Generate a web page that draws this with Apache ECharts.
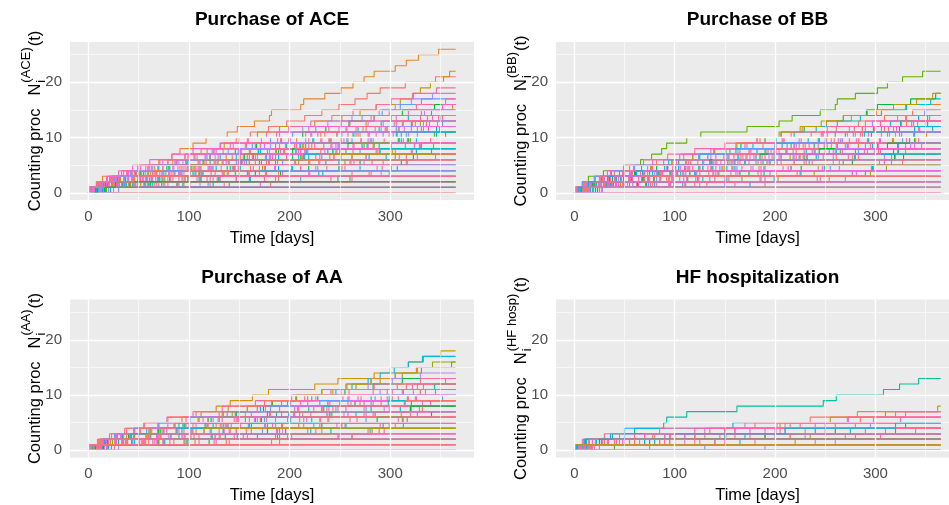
<!DOCTYPE html>
<html>
<head>
<meta charset="utf-8">
<script src="https://cdn.jsdelivr.net/npm/echarts@6/dist/echarts.min.js"></script>
<style>
html, body { margin: 0; padding: 0; background: #fff; }
#chart { width: 949px; height: 505px; }
</style>
</head>
<body>
<div id="chart"></div>
<script>
// ---- data ----
var panelTitles = ['Purchase of ACE', 'Purchase of BB', 'Purchase of AA', 'HF hospitalization'];
var panelSup = ['(ACE)', '(BB)', '(AA)', '(HF hosp)'];
var xTicks = [0, 100, 200, 300];
var yTicks = [0, 10, 20];
var followUp = 365;

// event days per patient (each patient = one step line)
var aceEvents = [
  [2,8,14,47,49,70,83,91,104,117,138,148,165,180,182,211,214,235,251,263,274,284,305,316,328,348],
  [3,12,27,44,61,79,96,112,131,147,161,179,197,215,232,249,265,277,290,315,345],
  [5,18,32,50,66,84,100,118,135,150,168,190,225,252,270,286,310,323,330,340,353,359],
  [4,15,31,48,69,88,106,124,141,159,177,199,221,242,263,286,301,322,346],
  [6,21,39,57,74,94,108,123,144,172,190,213,238,262,289,305,321,342],
  [3,19,37,59,81,99,121,139,163,181,203,226,251,272,292,310,331],
  [8,26,45,66,89,109,129,151,171,192,216,239,260,281,299,326,355],
  [2,13,36,55,78,97,121,146,167,191,213,236,259,284,312,344],
  [10,29,52,74,99,121,147,171,197,223,247,268,291,318,341],
  [5,24,46,68,93,115,137,160,186,207,231,256,276,301,331,362],
  [7,28,51,73,95,111,126,152,175,201,221,249,278,306,334],
  [12,34,61,86,111,139,164,189,216,241,263,289,321,350],
  [1,19,43,67,91,117,143,169,196,219,247,276,304,337],
  [9,31,58,83,109,137,166,194,225,254,286,314,347],
  [4,25,54,81,107,134,163,191,219,251,279,309,339],
  [15,41,69,101,127,157,189,217,249,281,311,346],
  [3,30,61,92,121,149,181,209,241,271,299,331],
  [18,47,81,113,144,177,211,243,274,309,344],
  [6,36,67,101,132,166,197,231,263,294,327],
  [11,44,81,114,151,186,219,256,289,326],
  [2,37,73,107,143,177,213,247,283,317],
  [20,57,96,134,173,209,251,289,331],
  [7,46,84,126,164,206,244,286,324],
  [14,56,99,146,189,236,279,326],
  [5,49,96,139,186,229,276,321],
  [25,76,124,176,226,274,327],
  [9,59,111,159,211,261,309],
  [16,73,129,191,249,311],
  [4,61,121,177,237,293],
  [22,89,161,229,301],
  [8,79,147,219,287],
  [12,101,189,281],
  [30,119,211,299],
  [3,121,241],
  [10,181],
  [6,94],
  [15],
  [],
  [6,23,49,77,104,129,158,187,213,240,268,297,330],
  [2,30,63,90,122,153,181,216,248,280,318],
  [9,40,71,104,138,170,203,238,272,308],
  [1,33,74,112,150,193,232,270,315],
  [13,52,90,133,175,220,262,305],
  [4,45,99,150,202,255,305],
  [11,68,118,170,228,282],
  [2,60,130,200,270],
  [18,140,260],
  [7,200],
  [3],
  [6,90,175,262],
  [4,27,52,80,106,133,160,186,214,241,270,296,325,352],
  [1,16,40,68,97,125,151,180,210,239,266,295,322],
  [8,33,64,92,124,155,183,215,246,278,307,338],
  [3,29,58,90,123,152,186,218,250,283,316,349],
  [12,45,79,111,146,179,212,246,278,313],
  [5,38,70,106,141,172,209,243,277,311,346],
  [2,35,74,110,149,188,226,263,301,340],
  [9,52,94,135,176,219,262,302,343],
  [6,40,82,122,161,205,244,287,329],
  [1,47,93,138,185,230,276,322],
  [17,64,110,158,203,249,296,341],
  [3,55,108,160,211,264,316],
  [10,62,112,166,219,270,323],
  [7,70,131,193,255,317],
  [2,66,128,189,252,316],
  [14,88,160,233,307],
  [4,75,147,220,292],
  [20,111,200,291],
  [6,95,186,279],
  [1,124,248],
  [11,135,262],
  [5,171],
  [13,88],
  [2],
  [8],
  [3,19,44,71,99,126,150,178,205,231,258,285,313,342],
  [6,31,57,85,112,140,168,195,222,251,279,308,336],
  [10,36,63,93,120,147,177,207,234,262,293,321,352],
  [2,28,59,90,119,151,180,211,242,271,303,333],
  [7,42,76,110,145,180,214,250,284,320,355],
  [3,10,21,35,52,74,99,127,156,188,222,257,293,330],
  [5,13,24,39,57,79,105,134,166,199,235,273,312],
  [1,8,19,33,50,71,96,125,157,191,228,266,306,348],
  [4,12,26,42,63,88,117,150,186,224,264,306],
  [2,11,23,40,60,86,116,151,190,232,278,327],
  [6,15,29,47,70,98,131,169,211,257,306],
  [3,9,22,38,59,87,121,161,207,258],
  [7,17,31,52,80,114,155,203,258,318],
  [1,10,25,46,74,110,154,206,264],
  [4,14,30,53,85,126,176,235,301],
  [2,12,28,51,84,128,183,250,330],
  [8,19,37,64,102,152,215,290],
  [5,16,35,64,105,160,230],
  [3,13,31,60,102,160,240],
  [1,11,30,62,110,180],
  [6,18,40,80,145],
  [2,14,36,75],
  [4,20,55],
  [9,27],
  [3,16,45,95,170,260,345],
  [2,9,18,30,44,61,83,104,131,158,187,219,251,284,318,352],
  [5,14,27,43,64,90,118,149,181,216,252,291,333]
];

var bbEvents = [
  [3,8,14,29,49,66,77,87,92,112,126,172,204,217,245,260,262,280,302,312,327,347],
  [5,20,38,61,82,104,124,151,166,190,206,229,251,268,291,302,335,360],
  [2,16,35,55,76,98,118,140,162,185,206,227,251,276,301,330],
  [9,25,46,68,90,111,133,155,178,201,219,241,262,285,306,331,355],
  [4,18,36,57,77,97,118,139,161,182,204,225,246,268,292,318,341,357],
  [6,24,47,70,93,116,141,163,188,209,236,261,283,309,337],
  [11,33,56,80,104,129,152,176,201,224,248,274,297,322,349],
  [1,22,49,75,101,128,154,182,207,233,260,287,315,343],
  [8,31,58,84,111,137,166,191,219,244,272,299,326,354],
  [13,39,68,96,124,153,181,211,239,267,296,324,352],
  [3,29,57,87,115,146,175,204,234,263,293,321,350],
  [5,35,67,97,128,159,190,221,252,283,314,344],
  [16,44,74,106,138,170,199,231,262,293,326,357],
  [2,34,69,102,136,170,204,237,270,304,338],
  [12,46,80,115,148,183,215,250,283,317,351],
  [7,42,79,115,152,188,224,261,297,334],
  [1,38,74,111,147,186,221,258,295,331],
  [19,58,98,139,178,219,258,299,339],
  [4,44,85,125,167,206,248,289,330],
  [10,55,99,144,189,234,279,323],
  [3,49,94,141,186,231,277,322],
  [21,72,123,174,226,277,328],
  [6,58,109,161,213,264,316],
  [14,74,135,195,255,316],
  [2,62,121,183,243,304],
  [9,82,154,226,298],
  [25,95,167,239,311],
  [5,96,186,277],
  [18,108,199,290],
  [7,125,245],
  [28,150,270],
  [12,190],
  [4,110],
  [9],
  [23],
  [],
  [7,30,55,82,110,136,164,193,221,250,278,306,336],
  [4,26,56,88,118,150,179,211,243,274,306,339],
  [15,48,86,121,158,192,229,265,302,339],
  [1,39,79,120,160,200,241,280,322],
  [6,48,95,138,184,229,273,318],
  [3,53,105,156,208,258,309],
  [11,71,128,189,249,309],
  [8,99,190,281],
  [2,160],
  [5,30,57,86,114,142,171,199,228,256,285,313,342],
  [2,27,54,83,113,141,172,200,230,259,287,318],
  [9,38,70,101,133,165,197,229,261,292,326],
  [4,36,69,103,137,170,206,239,272,305,339],
  [13,49,86,122,157,194,231,267,303,340],
  [1,41,82,121,162,202,243,283,323],
  [7,49,92,134,176,219,261,303,346],
  [3,50,97,143,190,237,283,330],
  [11,63,113,165,216,268,319],
  [6,58,112,163,216,268,320],
  [2,64,124,186,247,309],
  [15,78,140,201,264,327],
  [8,80,152,225,297],
  [4,76,150,222,296],
  [19,111,203,295],
  [3,94,185,277],
  [10,132,254],
  [1,120,242],
  [6,175],
  [14,95],
  [3],
  [27],
  [4,24,47,73,98,123,149,174,200,226,252,279,305,331],
  [8,32,57,84,110,137,163,190,216,244,270,298,325,352],
  [2,29,55,83,111,139,168,196,224,251,280,309,338],
  [6,34,64,95,125,157,187,218,249,281,312,343],
  [11,42,75,108,141,174,206,240,272,305,338],
  [1,37,73,109,145,181,218,254,290,327],
  [2,10,20,33,49,69,93,120,150,182,216,252,290,330],
  [4,12,25,40,59,82,109,139,172,208,246,287,331],
  [1,9,21,36,55,78,105,136,170,207,247,290,336],
  [3,13,27,45,67,94,125,161,200,243,289,339],
  [6,15,30,49,73,102,136,175,219,267,320],
  [2,8,20,37,60,89,124,165,212,265,324],
  [5,14,29,50,78,112,153,201,256,318],
  [1,11,26,48,77,114,159,212,273,343],
  [7,18,35,60,93,135,185,244,312],
  [3,12,30,56,92,138,194,260,335],
  [4,16,36,66,106,157,219,292],
  [2,10,28,58,100,155,225],
  [6,19,42,78,128,195,280],
  [1,13,34,70,125,200],
  [5,17,41,85,150],
  [3,15,44,98],
  [8,25,70],
  [2,30],
  [4,14,33,62,104,160,232,318],
  [9,21,40,69,110,163,228,305]
];

var aaEvents = [
  [2,12,28,46,70,93,112,127,141,163,179,225,248,284,300,318,333,350],
  [6,20,43,69,94,119,146,171,198,222,246,262,278,290,304,318,332],
  [4,19,40,62,86,110,134,158,183,207,232,256,281,305,331,361],
  [8,24,46,70,95,119,143,168,192,218,243,266,290,312,327,342],
  [3,17,38,61,85,109,133,158,182,206,232,257,281,305,326],
  [10,27,50,75,100,124,150,176,201,226,251,278,302,330],
  [5,22,45,70,96,122,147,174,200,228,255,283,312],
  [2,18,45,75,104,133,162,190,218,253,283,316],
  [7,26,59,88,118,147,178,208,238,258,290,322],
  [12,35,68,101,134,166,199,232,265,299,330],
  [1,30,61,95,127,160,192,224,258,291,323],
  [4,37,72,107,142,177,213,248,283,318],
  [9,44,80,115,151,186,221,256,291,326],
  [16,55,96,134,175,214,254,294,332],
  [3,43,82,122,162,201,242,281,321],
  [6,51,96,141,186,231,276,321],
  [11,56,102,147,192,238,283,329],
  [19,70,122,173,224,276,327],
  [2,54,105,157,209,260,311],
  [14,75,136,196,256,317],
  [5,66,126,187,247,308],
  [8,81,154,226,299],
  [23,96,168,241,313],
  [3,95,186,278],
  [15,106,198,289],
  [6,127,248],
  [20,140,262],
  [9,190],
  [4,120],
  [12],
  [30],
  [],
  [1,33,69,103,139,175,210,246,281,317],
  [4,50,93,140,183,230,274,320],
  [10,70,131,190,252,312],
  [2,74,145,218,290],
  [7,98,188,280],
  [1,60],
  [5],
  [3,28,57,87,118,148,178,209,240,271,302,333],
  [8,39,71,103,136,168,200,233,265,297,330],
  [1,34,68,102,137,171,205,239,274,308],
  [5,44,82,121,159,198,237,276,314,352],
  [12,53,94,135,176,217,258,299,340],
  [2,46,90,134,178,222,266,310],
  [9,55,101,147,193,239,285,332],
  [4,57,110,162,214,267,320],
  [15,69,123,178,232,287,341],
  [6,68,130,193,255,317],
  [1,64,126,188,251,313],
  [11,85,158,232,305],
  [3,76,148,221,293],
  [18,110,202,294],
  [7,98,190,282],
  [2,125,249],
  [13,137,262],
  [5,182],
  [20,100],
  [8],
  [26],
  [],
  [6,33,60,90,119,149,180,209,238,268,297,327,355],
  [2,30,62,93,124,156,187,219,250,281,313,344],
  [10,38,72,104,138,171,204,237,270,302,335],
  [3,11,23,38,56,78,104,133,166,202,241,284,330],
  [1,9,21,36,55,79,107,139,175,215,259,307],
  [5,14,28,46,69,97,130,168,211,259,312],
  [2,12,26,45,70,101,138,181,230,285,345],
  [4,13,29,51,79,114,156,205,261,325],
  [6,17,34,58,90,130,178,234,298],
  [1,10,27,52,86,129,181,243,315],
  [3,15,33,60,97,145,204,274],
  [7,19,40,72,116,172,240,320],
  [2,13,32,63,107,165,238],
  [5,18,41,78,131,200,285],
  [1,12,35,74,132,210],
  [4,16,42,88,160],
  [2,20,60,130,230],
  [6,22,58,115],
  [3,18,70],
  [9,35],
  [1,14]
];

var hfEvents = [
  [4,11,38,60,89,92,112,162,248,261,308,324,343],
  [10,45,95,150,205,255,310,362],
  [6,28,70,130,202,273,320],
  [15,55,110,160,215,272,330],
  [3,30,80,150,210,285],
  [9,50,120,190,250,325],
  [5,22,36,50,158],
  [12,60,151,230,300],
  [8,40,110,201,295],
  [2,11,90,260],
  [7,65,175,290],
  [14,100,200,320],
  [4,120,270],
  [18,150,305],
  [11,95,235],
  [2,80,215],
  [6,180],
  [16,240],
  [9,140],
  [3,300],
  [5],
  [20],
  [40],
  [130],
  [],
  [],
  [1,70],
  [8,60,190],
  [2],
  [13,85,160,340],
  [3,42,96,160,225,298],
  [7,55,130,205,280],
  [1,34,100,175,260],
  [12,70,150,240,330],
  [5,48,120,210],
  [9,80,170,275],
  [2,60,145,250],
  [14,90,200,310],
  [6,75,190],
  [1,110,230],
  [10,140,280],
  [4,95,215],
  [8,165],
  [3,125],
  [17,220],
  [5,260],
  [11,85],
  [2],
  [6],
  [25],
  [75],
  [190],
  [],
  [],
  [4,30,78,135,180,235,282],
  [2,9,30,85,170],
  [4,14,60,150],
  [1,8,45,120,240],
  [3,12,50],
  [5,18,90],
  [2,10],
  [6,21],
  [1,15,70,200],
  [3,25],
  [7],
  [4],
  [11,33,120],
  [2,27,100,210,320],
  [9,40],
  [1]
];

// ---- style ----
var hues = ['#F8766D','#E88526','#D39200','#B79F00','#93AA00','#5EB300','#00BA38','#00BF74',
            '#00C19F','#00BFC4','#00B9E3','#00ADFA','#619CFF','#AE87FF','#DB72FB','#F564E3','#FF61C3','#FF699C'];
var aceHue = [1,0,3,17,13,12,17,6,9,1,14,8,0,15,17,11,16,5,17,10,0,2,16,11,0,13,17,6,0,9,15,0,12,17,0,6,16,0,
              3,14,7,12,16,4,17,10,5,15,0,17,
              17,0,16,12,15,9,17,3,0,14,10,17,6,16,0,11,17,13,0,7,17,15,0,16,8,17,0,12,16,5,
              16,0,17,12,15,10,17,6,0,14,16,9,17,3,0,15,12,17,6,0,16,13];
var bbHue = [5,6,1,9,3,0,13,11,17,7,15,0,8,16,2,10,17,14,17,9,0,6,15,12,0,17,4,0,10,16,13,0,17,0,6,17,
             12,16,5,11,17,14,8,15,17,
             17,0,16,9,15,12,0,17,6,14,16,0,10,17,3,15,0,17,11,16,0,13,17,8,0,16,15,12,
             17,0,16,10,15,12,0,17,6,14,16,0,9,17,3,15,0,17,11,16];
var aaHue = [2,10,5,4,1,13,6,17,15,11,0,0,16,14,8,0,17,12,0,7,15,17,9,0,2,16,0,0,6,17,13,0,12,15,3,17,9,0,16,
             17,0,16,12,15,9,0,17,6,14,16,0,10,17,3,15,0,17,11,16,0,13,17,8,0,
             17,0,16,12,15,9,0,17,6,14,16,0,10,17,3,15,0,17];
var hfHue = [8,3,15,17,0,16,11,0,13,6,17,10,0,16,1,15,17,0,8,14,0,17,5,12,0,16,9,17,15,0,
             17,0,16,11,15,9,0,17,6,14,16,0,10,17,3,15,0,17,12,16,0,13,17,8,0,
             17,0,16,11,15,9,0,17,6,14,16,0,10,17,3];

var grids = [
  { left: 70, top: 42, width: 404, height: 158 },
  { left: 556, top: 42, width: 403, height: 158 },
  { left: 70, top: 299.5, width: 404, height: 158 },
  { left: 556, top: 299.5, width: 403, height: 158 }
];
var FONT = '"Liberation Sans", Arial, sans-serif';

function stepData(ev) {
  var d = [[0, 0]];
  ev.forEach(function(t, i) { d.push([t, i + 1]); });
  d.push([followUp, ev.length]);
  return d;
}

var series = [];
var allEvents = [aceEvents, bbEvents, aaEvents, hfEvents];
var allHue = [aceHue, bbHue, aaHue, hfHue];

for (var k = 0; k < 4; k++) {
  // white panel grid lines
  var ml = [];
  [0,100,200,300].forEach(function(v) { ml.push({ xAxis: v, lineStyle: { width: 1.3 } }); });
  [50,150,250,350].forEach(function(v) { ml.push({ xAxis: v, lineStyle: { width: 0.6 } }); });
  [0,10,20].forEach(function(v) { ml.push({ yAxis: v, lineStyle: { width: 1.3 } }); });
  [5,15,25].forEach(function(v) { ml.push({ yAxis: v, lineStyle: { width: 0.6 } }); });
  series.push({
    type: 'line', xAxisIndex: k, yAxisIndex: k, data: [], z: 1, silent: true,
    markLine: {
      silent: true, symbol: ['none', 'none'], label: { show: false }, animation: false,
      lineStyle: { color: '#ffffff', type: 'solid' },
      emphasis: { disabled: true },
      data: ml
    }
  });
  allEvents[k].forEach(function(ev, i) {
    var c = hues[allHue[k][i % allHue[k].length]];
    series.push({
      type: 'line', xAxisIndex: k, yAxisIndex: k, step: 'end',
      data: stepData(ev), showSymbol: false, symbol: 'none',
      lineStyle: { width: 1.1, color: c }, itemStyle: { color: c },
      silent: true, animation: false, z: 2
    });
  });
}

var xAxes = [], yAxes = [];
for (var k = 0; k < 4; k++) {
  xAxes.push({
    type: 'value', gridIndex: k, min: -18.25, max: 383.25,
    axisLine: { show: false },
    axisTick: { show: true, length: 4, customValues: xTicks, lineStyle: { color: '#333333', width: 1 } },
    axisLabel: { customValues: xTicks, color: '#4D4D4D', fontSize: 15, fontFamily: FONT, margin: 9 },
    splitLine: { show: false }
  });
  yAxes.push({
    type: 'value', gridIndex: k, min: -1.3, max: 27.3,
    axisLine: { show: false },
    axisTick: { show: true, length: 4, customValues: yTicks, lineStyle: { color: '#333333', width: 1 } },
    axisLabel: { customValues: yTicks, color: '#4D4D4D', fontSize: 15, fontFamily: FONT, margin: 8 },
    splitLine: { show: false }
  });
}

// text helpers
var ctx = document.createElement('canvas').getContext('2d');
function tw(s, size) { ctx.font = size + 'px ' + FONT; return ctx.measureText(s).width; }
function txt(s, x, y, size, weight, align) {
  var f = (weight ? weight + ' ' : '') + size + 'px ' + FONT;
  return { type: 'text', x: x, y: y, silent: true,
    style: { text: s, font: f, fill: '#000', align: align || 'left', textAlign: align || 'left',
             verticalAlign: 'middle', textVerticalAlign: 'middle' } };
}
function yTitle(cx, cy, sup) {
  var big = 16.5, small = 13;
  var w1 = tw('Counting proc', big);
  var gap = 13;
  var wN = tw('N', big);
  var wSup = Math.max(tw(sup, small), tw('i', small));
  var wT = tw('(t)', big);
  var W = w1 + gap + wN + 1 + wSup + 1 + wT;
  var x0 = -W / 2;
  var kids = [
    txt('Counting proc', x0, 0, big),
    txt('N', x0 + w1 + gap, 0, big),
    txt(sup, x0 + w1 + gap + wN + 1, -9, small),
    txt('i', x0 + w1 + gap + wN + 1, 6, small),
    txt('(t)', x0 + w1 + gap + wN + 1 + wSup + 1, 0, big)
  ];
  return { type: 'group', x: cx, y: cy, rotation: Math.PI / 2, children: kids };
}

var graphics = [];
for (var k = 0; k < 4; k++) {
  var g = grids[k];
  var mid = g.left + g.width / 2;
  graphics.push(txt(panelTitles[k], mid, g.top - 22, 19, 'bold', 'center'));
  graphics.push(txt('Time [days]', mid, g.top + g.height + 38, 16.5, null, 'center'));
  graphics.push(yTitle(g.left - 35, g.top + g.height / 2, panelSup[k]));
}

var myChart = echarts.init(document.getElementById('chart'), null, { renderer: 'canvas' });
var option = {
  backgroundColor: '#ffffff',
  animation: false,
  grid: grids.map(function(g) {
    return { left: g.left, top: g.top, width: g.width, height: g.height, show: true,
             backgroundColor: '#EBEBEB', borderWidth: 0, containLabel: false, outerBoundsMode: 'none' };
  }),
  xAxis: xAxes,
  yAxis: yAxes,
  graphic: { elements: graphics },
  series: series
};
myChart.setOption(option);
</script>
</body>
</html>
